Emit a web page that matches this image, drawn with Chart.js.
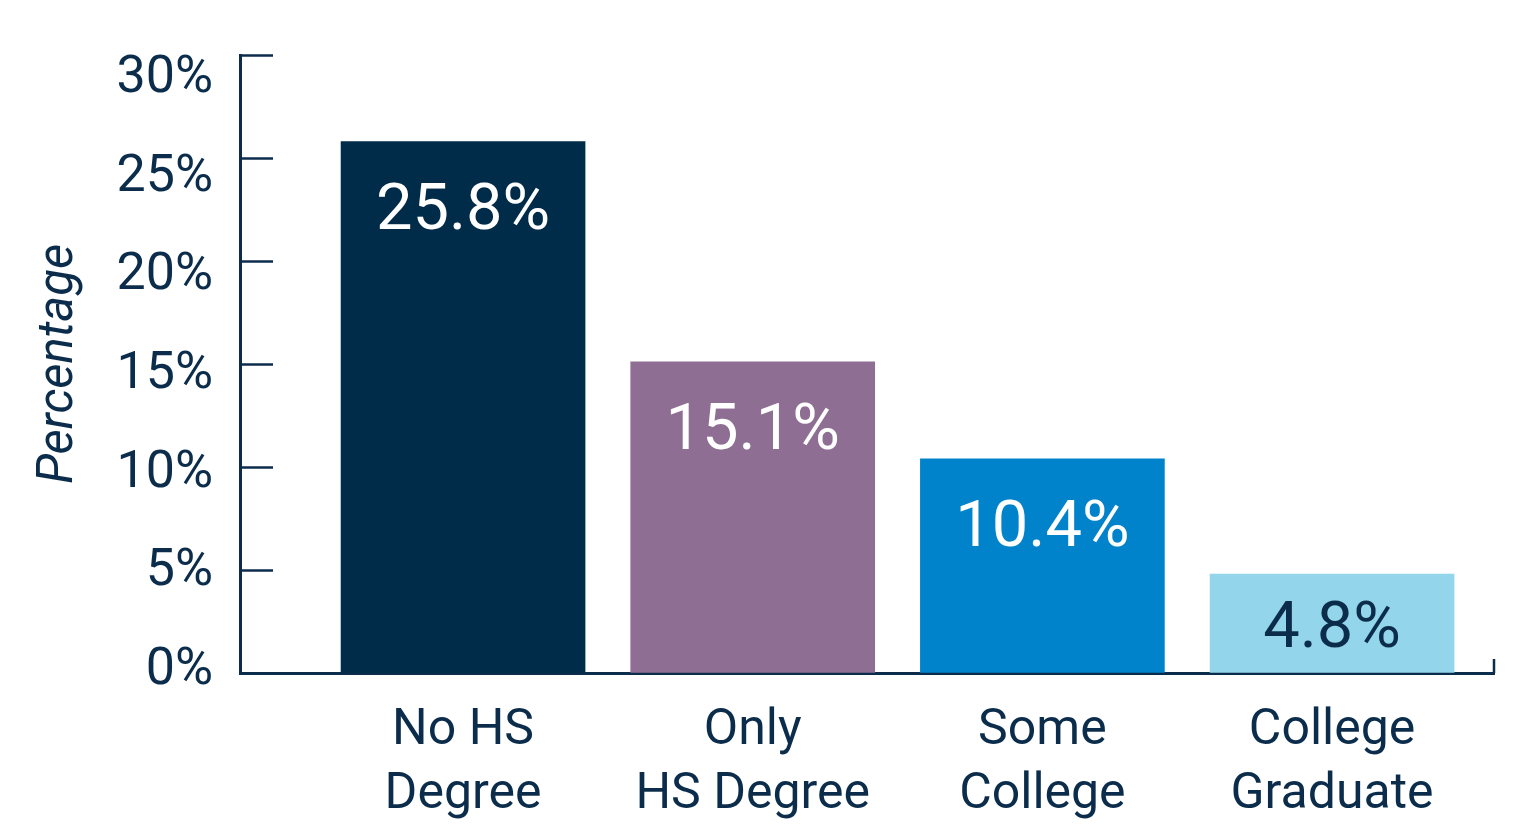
<!DOCTYPE html>
<html>
<head>
<meta charset="utf-8">
<script src="https://cdn.jsdelivr.net/npm/chart.js@4"></script>
<style>
  html, body { margin: 0; padding: 0; background: #fff; }
  #wrap { width: 1521px; height: 828px; position: relative; }
</style>
</head>
<body>
<div id="wrap"><canvas id="eduChart"></canvas></div>
<script>
// data
const categories = [['No HS', 'Degree'], ['Only', 'HS Degree'], ['Some', 'College'], ['College', 'Graduate']];
const values = [25.8, 15.1, 10.4, 4.8];
const barColors = ['#002b49', '#8e6e93', '#0083ca', '#93d5ea'];
const labelColors = ['#ffffff', '#ffffff', '#ffffff', '#0b2d4b'];
const yTicks = [0, 5, 10, 15, 20, 25, 30];

const ink = '#0b2d4b';

// short tick marks inside the plot + little end tick on the x axis
const axisMarks = {
    id: 'axisMarks',
    afterDraw(chart) {
        const ctx = chart.ctx;
        const y = chart.scales.y;
        const area = chart.chartArea;
        ctx.save();
        ctx.strokeStyle = ink;
        ctx.lineWidth = 2.5;
        yTicks.forEach(v => {
            if (v === 0) return;
            const py = Math.round(y.getPixelForValue(v)) + 0.5;
            ctx.beginPath();
            ctx.moveTo(area.left, py);
            ctx.lineTo(area.left + 33, py);
            ctx.stroke();
        });
        ctx.beginPath();
        ctx.moveTo(area.right, area.bottom);
        ctx.lineTo(area.right, area.bottom - 14);
        ctx.stroke();
        ctx.restore();
    }
};

// value labels inside the bars
const barValues = {
    id: 'barValues',
    afterDatasetsDraw(chart) {
        const ctx = chart.ctx;
        const meta = chart.getDatasetMeta(0);
        ctx.save();
        ctx.font = '400 65px Roboto';
        ctx.textAlign = 'center';
        ctx.textBaseline = 'alphabetic';
        meta.data.forEach((bar, i) => {
            const top = bar.y, bottom = bar.base;
            const py = Math.min(top + 87, (top + bottom) / 2 + 24);
            ctx.fillStyle = labelColors[i];
            ctx.fillText(values[i].toFixed(1) + '%', bar.x, py);
        });
        ctx.restore();
    }
};

new Chart(document.getElementById('eduChart'), {
    type: 'bar',
    data: {
        datasets: [{
            data: values.map((v, i) => ({ x: i, y: v })),
            backgroundColor: barColors,
            borderWidth: 0,
            barThickness: 244
        }]
    },
    options: {
        responsive: true,
        maintainAspectRatio: false,
        animation: false,
        layout: { padding: { top: 55, right: 27, left: 0, bottom: 0 } },
        plugins: {
            legend: { display: false },
            tooltip: { enabled: false }
        },
        scales: {
            x: {
                type: 'linear',
                position: 'bottom',
                min: -0.77,
                max: 3.559,
                offset: false,
                afterBuildTicks: s => { s.ticks = categories.map((_, i) => ({ value: i })); },
                afterFit: s => { s.height = 155; },
                grid: { display: true, drawOnChartArea: false, drawTicks: false, offset: false },
                border: { display: true, color: ink, width: 3 },
                ticks: {
                    autoSkip: false,
                    maxRotation: 0,
                    padding: 26,
                    color: ink,
                    font: { family: 'Roboto', size: 50, lineHeight: 1.28 },
                    callback: v => categories[v] || ''
                }
            },
            y: {
                position: 'left',
                weight: 0,
                min: 0,
                max: 30,
                afterFit: s => { s.width = 0; s.paddingTop = 0; s.paddingBottom = 0; },
                grid: { display: true, drawOnChartArea: false, drawTicks: false },
                border: { display: true, color: ink, width: 3 },
                ticks: { display: false, stepSize: 5 }
            },
            yl: {
                type: 'linear',
                position: 'left',
                weight: 1,
                min: -0.1014,
                max: 31.217,
                afterBuildTicks: s => { s.ticks = yTicks.map(v => ({ value: v })); },
                afterFit: s => { s.width = 240; s.paddingTop = 0; s.paddingBottom = 0; },
                grid: { display: false, drawTicks: false },
                border: { display: false },
                ticks: {
                    padding: 27,
                    color: ink,
                    font: { family: 'Roboto', size: 52 },
                    callback: v => v + '%'
                },
                title: {
                    display: true,
                    text: 'Percentage',
                    color: ink,
                    padding: { top: 30, bottom: 0 },
                    font: { family: 'Roboto', size: 49, style: 'italic', lineHeight: 1.2 }
                }
            }
        }
    },
    plugins: [axisMarks, barValues]
});
</script>
</body>
</html>
